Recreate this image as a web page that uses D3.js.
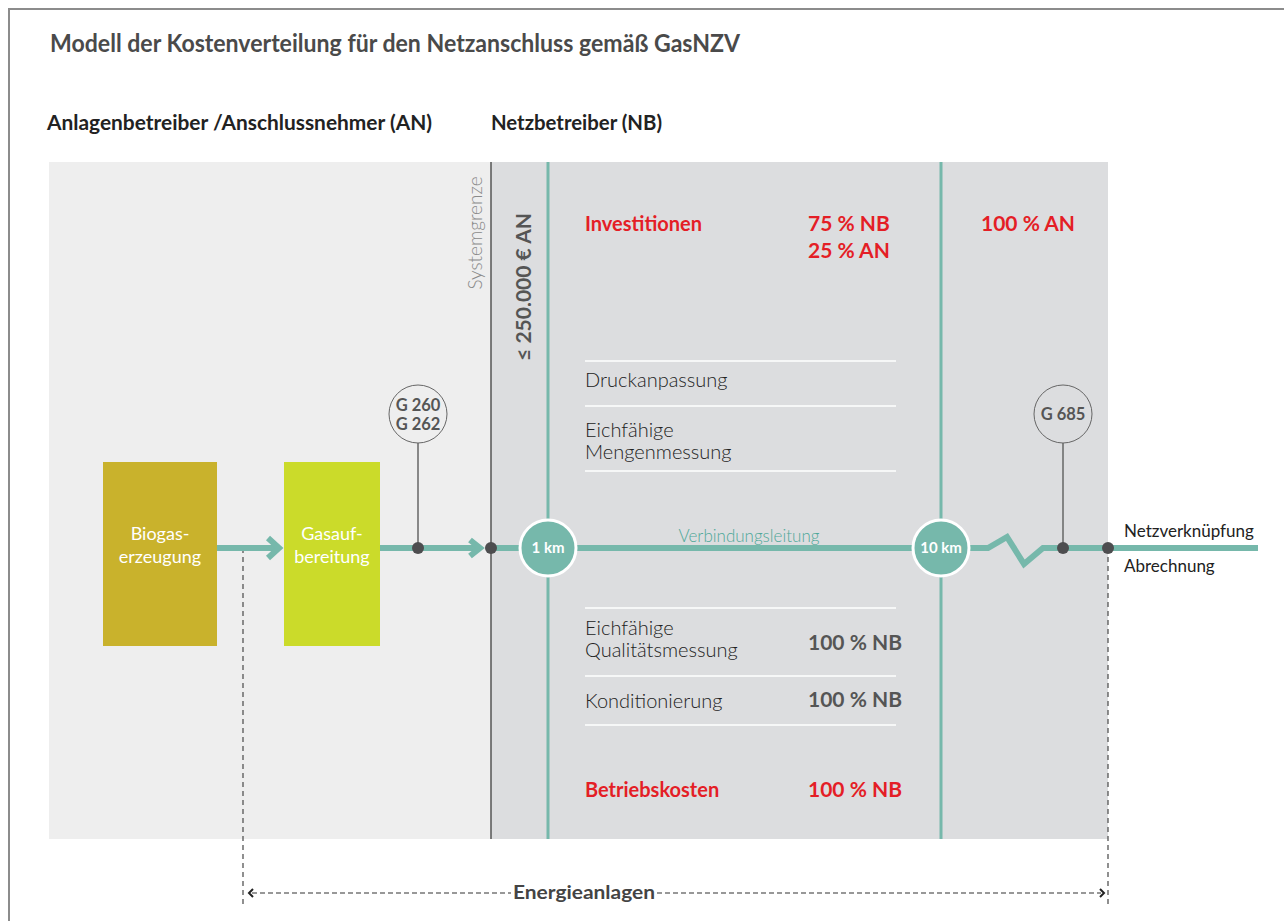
<!DOCTYPE html>
<html>
<head>
<meta charset="utf-8">
<script src="https://cdn.jsdelivr.net/npm/d3@7"></script>
<style>
  body { margin: 0; background: #fff; }
  svg { display: block; font-family: Lato, 'Open Sans', sans-serif; }
</style>
</head>
<body>
<svg id="chart"></svg>
<script>
// ---- content (text only) ----
const title = 'Modell der Kostenverteilung für den Netzanschluss gemäß GasNZV';
const parties = ['Anlagenbetreiber /Anschlussnehmer (AN)', 'Netzbetreiber (NB)'];
const plants = [['Biogas-', 'erzeugung'], ['Gasauf-', 'bereitung']];
const gauges = [['G 260', 'G 262'], ['G 685']];
const distances = ['1 km', '10 km'];
const investLabel = 'Investitionen';
const investShares = [['75 % NB', '25 % AN'], ['100 % AN']];
const upperItems = [['Druckanpassung'], ['Eichfähige', 'Mengenmessung']];
const lowerItems = [['Eichfähige', 'Qualitätsmessung'], ['Konditionierung']];
const lowerShares = ['100 % NB', '100 % NB'];
const operatingLabel = 'Betriebskosten';
const operatingShare = '100 % NB';
const boundaryLabel = 'Systemgrenze';
const limitLabel = '≤ 250.000 € AN';
const pipeLabel = 'Verbindungsleitung';
const endLabels = ['Netzverknüpfung', 'Abrechnung'];
const spanLabel = 'Energieanlagen';

// ---- layout ----
const W = 1284, H = 921;
const RED = '#e41e26', TEAL = '#76b8ab', DARK = '#4d4d4f', TXT = '#222';
const zoneTop = 162, zoneBottom = 839, pipeY = 548;

const svg = d3.select('#chart').attr('width', W).attr('height', H);

// x positions of the main landmarks
const x = d3.scaleOrdinal()
  .domain(['left', 'boundary', 'km1', 'km10', 'right', 'plant1', 'plant2', 'gauge1', 'gauge2', 'span0', 'end'])
  .range([49, 491, 548, 941, 1108, 103, 284, 418, 1063, 243, 1258]);

// frame
svg.append('path')
  .attr('d', `M9,${H} V9 H${W}`)
  .attr('fill', 'none')
  .attr('stroke', '#8c8c8c')
  .attr('stroke-width', 2);

// title and party headers
svg.append('text')
  .attr('x', 50).attr('y', 52)
  .attr('font-size', 24).attr('font-weight', 700)
  .attr('fill', '#4a4a4a')
  .attr('textLength', 690).attr('lengthAdjust', 'spacingAndGlyphs')
  .text(title);

svg.selectAll('.party')
  .data(parties)
  .join('text')
  .attr('class', 'party')
  .attr('x', (d, i) => [47, 491][i])
  .attr('y', 130)
  .attr('font-size', 20).attr('font-weight', 700)
  .attr('fill', '#222')
  .attr('textLength', (d, i) => [385, 171][i])
  .attr('lengthAdjust', 'spacingAndGlyphs')
  .text((d) => d);

// zones
svg.append('rect')
  .attr('x', x('left')).attr('y', zoneTop)
  .attr('width', x('boundary') - x('left')).attr('height', zoneBottom - zoneTop)
  .attr('fill', '#eeeeee');
svg.append('rect')
  .attr('x', x('boundary')).attr('y', zoneTop)
  .attr('width', x('right') - x('boundary')).attr('height', zoneBottom - zoneTop)
  .attr('fill', '#dcdddf');

// system boundary and distance lines
svg.append('line')
  .attr('x1', x('boundary')).attr('x2', x('boundary'))
  .attr('y1', zoneTop).attr('y2', zoneBottom)
  .attr('stroke', '#555').attr('stroke-width', 1.5);
svg.selectAll('.kmline')
  .data(['km1', 'km10'])
  .join('line')
  .attr('class', 'kmline')
  .attr('x1', (d) => x(d)).attr('x2', (d) => x(d))
  .attr('y1', zoneTop).attr('y2', zoneBottom)
  .attr('stroke', TEAL).attr('stroke-width', 3);

// vertical labels
svg.append('text')
  .attr('transform', `translate(482,233) rotate(-90)`)
  .attr('text-anchor', 'middle')
  .attr('font-size', 19).attr('font-weight', 300)
  .attr('fill', '#8a8a8a')
  .text(boundaryLabel);
svg.append('text')
  .attr('transform', `translate(531,287) rotate(-90)`)
  .attr('text-anchor', 'middle')
  .attr('font-size', 21).attr('font-weight', 700)
  .attr('fill', '#555')
  .text(limitLabel);

// cost table
const colLabel = 585, colShare = 808, colRight = 981;
svg.selectAll('.sep')
  .data([361, 406, 471, 608, 676, 725])
  .join('line')
  .attr('class', 'sep')
  .attr('x1', colLabel).attr('x2', 896)
  .attr('y1', (d) => d).attr('y2', (d) => d)
  .attr('stroke', '#fff').attr('stroke-width', 1.5);

function lines(sel, arr, x0, y0, dy) {
  sel.selectAll('tspan')
    .data(arr)
    .join('tspan')
    .attr('x', x0)
    .attr('y', (d, i) => y0 + i * dy)
    .text((d) => d);
}

const bold = (g) => g.attr('font-size', 20).attr('font-weight', 700);
const light = (g) => g.attr('font-size', 20).attr('font-weight', 300).attr('fill', TXT);

svg.append('text').call(bold).attr('fill', RED)
  .attr('x', colLabel).attr('y', 231).text(investLabel);
investShares.forEach((s, i) => {
  svg.append('text').call(bold).attr('font-size', 21).attr('fill', RED)
    .call(lines, s, [colShare, colRight][i], 231, 27);
});

upperItems.forEach((s, i) => {
  svg.append('text').call(light).call(lines, s, colLabel, [387, 437][i], 22);
});
lowerItems.forEach((s, i) => {
  svg.append('text').call(light).call(lines, s, colLabel, [635, 708][i], 22);
  svg.append('text').call(bold).attr('font-size', 21).attr('fill', '#555')
    .attr('x', colShare).attr('y', [650, 707][i]).text(lowerShares[i]);
});
svg.append('text').call(bold).attr('fill', RED)
  .attr('x', colLabel).attr('y', 797).text(operatingLabel);
svg.append('text').call(bold).attr('font-size', 21).attr('fill', RED)
  .attr('x', colShare).attr('y', 797).text(operatingShare);

// dashed extent of the energy plants
svg.selectAll('.vdash')
  .data(['span0', 'right'])
  .join('line')
  .attr('class', 'vdash')
  .attr('x1', (d) => x(d)).attr('x2', (d) => x(d))
  .attr('y1', pipeY).attr('y2', 907)
  .attr('stroke', '#555').attr('stroke-width', 1.3)
  .attr('stroke-dasharray', '5,4');
svg.selectAll('.hdash')
  .data([[252, 511], [657, 1101]])
  .join('line')
  .attr('class', 'hdash')
  .attr('x1', (d) => d[0]).attr('x2', (d) => d[1])
  .attr('y1', 893).attr('y2', 893)
  .attr('stroke', '#777').attr('stroke-width', 1.5)
  .attr('stroke-dasharray', '5,3');
svg.selectAll('.chev')
  .data([[253, 249], [1100, 1104]])
  .join('path')
  .attr('class', 'chev')
  .attr('d', (d) => `M${d[0]},889 L${d[1]},893 L${d[0]},897`)
  .attr('fill', 'none').attr('stroke', '#222').attr('stroke-width', 2);
svg.append('text')
  .attr('x', 513).attr('y', 899)
  .attr('font-size', 19).attr('font-weight', 700)
  .attr('fill', '#444')
  .attr('textLength', 142).attr('lengthAdjust', 'spacingAndGlyphs')
  .text(spanLabel);

// pipeline
const pipe = (d) => svg.append('path').attr('d', d)
  .attr('fill', 'none').attr('stroke', TEAL).attr('stroke-width', 6)
  .attr('stroke-linejoin', 'miter');
pipe(`M217,${pipeY} H275`);
pipe(`M268,${pipeY - 10} L279,${pipeY} L268,${pipeY + 10}`);
pipe(`M380,${pipeY} H476`);
pipe(`M470,${pipeY - 8} L480,${pipeY} L470,${pipeY + 8}`);
pipe(`M${x('boundary')},${pipeY} H988 L1007,${pipeY - 11} L1024,${pipeY + 16} L1043,${pipeY} H${x('end')}`);

svg.append('text')
  .attr('x', 749).attr('y', 542)
  .attr('text-anchor', 'middle')
  .attr('font-size', 17).attr('font-weight', 300)
  .attr('fill', '#4fa899')
  .text(pipeLabel);

// plants
const plantFill = ['#c9b22c', '#cbdb2a'];
const plantX = [x('plant1'), x('plant2')];
plants.forEach((p, i) => {
  svg.append('rect')
    .attr('x', plantX[i]).attr('y', 462)
    .attr('width', [114, 96][i]).attr('height', 184)
    .attr('fill', plantFill[i]);
  svg.append('text')
    .attr('text-anchor', 'middle')
    .attr('font-size', 18).attr('font-weight', 400)
    .attr('fill', '#fff')
    .call(lines, p, plantX[i] + [114, 96][i] / 2, 540, 23);
});

// gauges
const gaugeX = [x('gauge1'), x('gauge2')];
gauges.forEach((g, i) => {
  const gx = gaugeX[i], gy = 414;
  svg.append('line')
    .attr('x1', gx).attr('x2', gx).attr('y1', gy + 29).attr('y2', pipeY)
    .attr('stroke', '#666').attr('stroke-width', 1.5);
  svg.append('circle')
    .attr('cx', gx).attr('cy', gy).attr('r', 29)
    .attr('fill', 'none').attr('stroke', '#666').attr('stroke-width', 1);
  svg.append('text')
    .attr('text-anchor', 'middle')
    .attr('font-size', 16.5).attr('font-weight', 700)
    .attr('fill', '#555')
    .call(lines, g, gx, g.length === 1 ? gy + 6 : gy - 3, 19);
});

// junction dots
svg.selectAll('.dot')
  .data(['gauge1', 'boundary', 'gauge2', 'right'])
  .join('circle')
  .attr('class', 'dot')
  .attr('cx', (d) => x(d)).attr('cy', pipeY).attr('r', 6)
  .attr('fill', DARK);

// distance markers
svg.selectAll('.km')
  .data(distances)
  .join('g')
  .attr('class', 'km')
  .attr('transform', (d, i) => `translate(${x(['km1', 'km10'][i])},${pipeY})`)
  .call((g) => {
    g.append('circle').attr('r', 28)
      .attr('fill', TEAL).attr('stroke', '#fff').attr('stroke-width', 3);
    g.append('text')
      .attr('text-anchor', 'middle').attr('dy', 5)
      .attr('font-size', 15).attr('font-weight', 700)
      .attr('fill', '#fff')
      .text((d) => d);
  });

// end labels
svg.selectAll('.end')
  .data(endLabels)
  .join('text')
  .attr('class', 'end')
  .attr('x', 1124)
  .attr('y', (d, i) => [537, 572][i])
  .attr('font-size', 17).attr('font-weight', 400)
  .attr('fill', '#222')
  .text((d) => d);
</script>
</body>
</html>
